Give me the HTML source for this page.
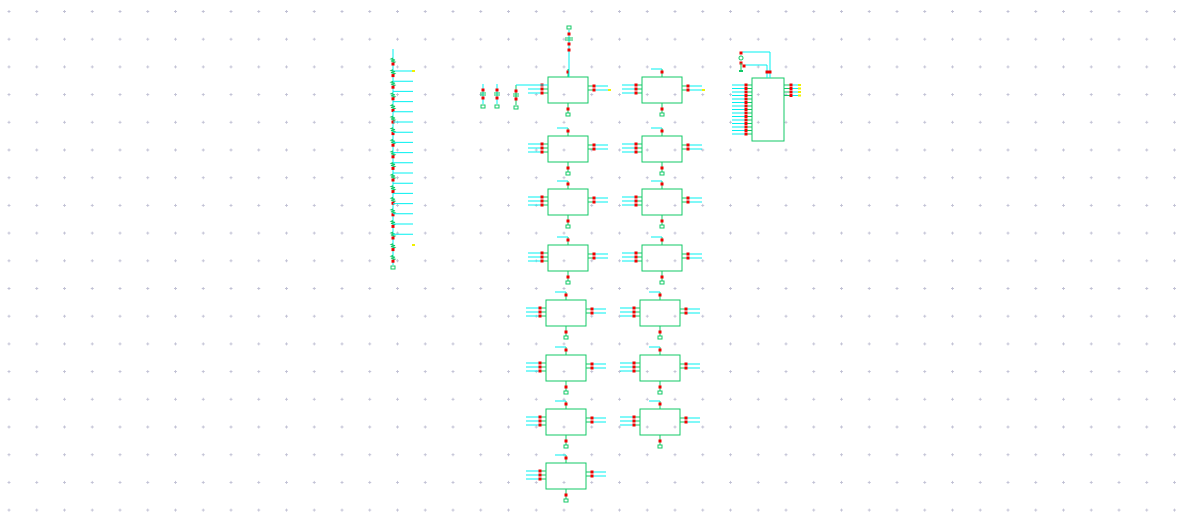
<!DOCTYPE html>
<html><head><meta charset="utf-8"><style>
html,body{margin:0;padding:0;background:#fff;}
svg{display:block;}
</style></head><body>
<svg id="s" width="1177" height="529" xmlns="http://www.w3.org/2000/svg" style="font-family:'Liberation Sans',sans-serif">
<g id="grid"></g>
<g id="parts"></g>
</svg>
<script>
const NS='http://www.w3.org/2000/svg';
const G='#12c866', C='#00f0f0', R='#f00000', Y='#f0f000';
// block positions [x, y]
const leftCol=[[548,77],[548,136],[548,189],[548,245],[546,300],[546,355],[546,409],[546,463]];
const rightCol=[[642,77],[642,136],[642,189],[642,245],[640,300],[640,355],[640,409]];
const tapCount=18;
const grid=document.getElementById('grid'), parts=document.getElementById('parts');
function el(tag,a,parent){const e=document.createElementNS(NS,tag);for(const k in a)e.setAttribute(k,a[k]);(parent||parts).appendChild(e);return e;}
for(let gx=9;gx<1177;gx+=27.75){for(let gy=11.5;gy<529;gy+=27.7){
 el('path',{d:`M${gx-1.5} ${gy}h3M${gx} ${gy-1.5}v3`,stroke:'#c0c0d4','stroke-width':0.9},grid);}}
function line(x1,y1,x2,y2,c,g,w){return el('line',{x1,y1,x2,y2,stroke:c,'stroke-width':w||1},g);}
function dot(x,y,g){return el('rect',{x:x-1.5,y:y-1.5,width:3,height:3,fill:R},g);}
function block(x,y,i,col,top){
 const g=el('g',{});
 
 
 el('rect',{x,y,width:40,height:26,fill:'none',stroke:G,'stroke-width':1},g);
 for(let k=0;k<3;k++){const yy=y+8+k*4;line(x-20,yy,x-6,yy,C,g);line(x-6,yy,x,yy,G,g);dot(x-6,yy,g);}
 const rx=x+40;
 for(let k=0;k<2;k++){const yy=y+9+k*4;line(rx,yy,rx+6,yy,G,g);line(rx+6,yy,rx+20,yy,C,g);dot(rx+6,yy,g);}
 const cx=x+20;
 line(cx,y,cx,y-8,G,g);dot(cx,y-5,g);
 if(!top){line(cx,y-8,cx-11,y-8,C,g);}
 line(cx,y+26,cx,y+36,G,g);dot(cx,y+32,g);
 el('rect',{x:cx-2,y:y+36,width:4,height:3,fill:'none',stroke:G,'stroke-width':1},g);
}
leftCol.forEach((p,i)=>block(p[0],p[1],i,'left',i===0));
rightCol.forEach((p,i)=>block(p[0],p[1],i,'right',false));
{const g=el('g',{});
 line(569,77,569,30,C,g);dot(569,50,g);dot(569,34,g);dot(569,44,g);
 el('rect',{x:567,y:26,width:4,height:3,fill:'none',stroke:G},g);
 el('path',{d:'M565 38h8M565 40h8',stroke:G},g);}
[[608,89],[702,89]].forEach(p=>el('rect',{x:p[0],y:p[1],width:3,height:2,fill:Y}));
[[483,84],[497,84],[516,85]].forEach((p,i)=>{const g=el('g',{});
 
 line(p[0],p[1],p[0],p[1]+20,i<2?C:G,g);dot(p[0],p[1]+6,g);dot(p[0],p[1]+14,g);
 el('path',{d:`M${p[0]-3} ${p[1]+9}h6M${p[0]-3} ${p[1]+11}h6`,stroke:G},g);
 el('rect',{x:p[0]-2,y:p[1]+21,width:4,height:3,fill:'none',stroke:G},g);});
line(516,85,548,85,C);
{const g=el('g',{});
 line(393,49,393,265,C,g);
 for(let k=0;k<tapCount;k++){const yy=58+k*11.6;
  el('path',{d:`M393 ${yy}l-2 1l4 1l-4 1l4 1l-2 1`,stroke:G,fill:'none'},g);dot(393,yy+6,g);
  const ty=71+k*10.2;if(k<17)line(393,ty,413,ty,C,g);}
 el('rect',{x:412,y:70,width:3,height:2,fill:Y},g);el('rect',{x:412,y:244,width:3,height:2,fill:Y},g);
 el('rect',{x:391,y:266,width:4,height:3,fill:'none',stroke:G},g);}
{const g=el('g',{});
 el('rect',{x:752,y:78,width:32,height:63,fill:'none',stroke:G},g);
 for(let k=0;k<15;k++){const yy=85+k*3.5;line(732,yy,746,yy,C,g);line(746,yy,752,yy,G,g);dot(746,yy,g);}
 for(let k=0;k<4;k++){const yy=85+k*3.5;line(784,yy,791,yy,G,g);line(791,yy,798,yy,C,g);dot(791,yy,g);el('rect',{x:798,y:yy-1,width:3,height:2,fill:Y},g);}
 line(741,52,770,52,C,g);line(770,52,770,78,C,g);line(744,65,767,65,C,g);line(767,65,767,78,C,g);
 dot(767,72,g);dot(770,72,g);dot(741,53,g);dot(741,63,g);dot(744,66,g);
 el('circle',{cx:741,cy:58,r:2,fill:'none',stroke:G},g);line(741,63,741,70,G,g);el('rect',{x:739,y:70,width:4,height:2,fill:G},g);}
</script>
</body></html>
